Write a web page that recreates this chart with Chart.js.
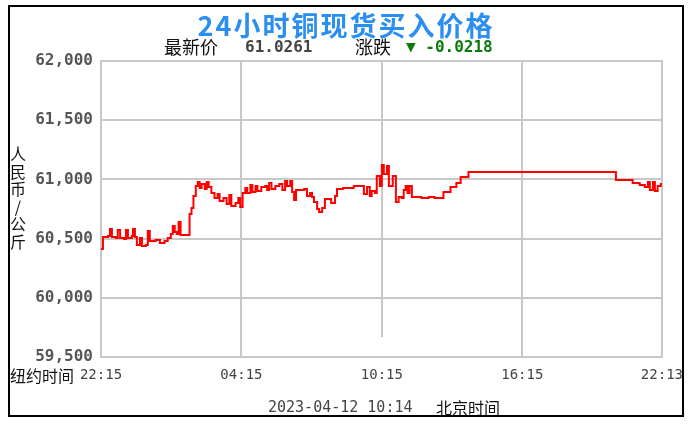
<!DOCTYPE html>
<html>
<head>
<meta charset="utf-8">
<script src="https://cdn.jsdelivr.net/npm/chart.js@4/dist/chart.umd.min.js"></script>
<style>
  html, body { margin: 0; padding: 0; background: #fff; }
  #wrap { position: relative; width: 693px; height: 432px; overflow: hidden; }
  #c { position: absolute; left: 0; top: 0; }
  .t { position: absolute; white-space: nowrap; line-height: 1; }
  #frame { position: absolute; left: 8px; top: 5px; width: 672px; height: 408px; border: 2px solid #000; pointer-events: none; z-index: 2; }
  #title { left: 8px; width: 676px; text-align: center; top: 5px; font: bold 27px "Noto Sans CJK SC"; color: #2a8ff0; letter-spacing: 2px; }
  .cn { font-family: "Noto Sans CJK SC"; color: #111; }
  .mono { font-family: "DejaVu Sans Mono"; }
  #ylab { left: 9px; top: 145px; width: 18px; font-size: 16px; line-height: 17.5px; text-align: center; }
</style>
</head>
<body>
<div id="wrap">
  <canvas id="c" width="693" height="432"></canvas>
  <div style="position:absolute;left:248px;top:337px;width:222px;height:19px;background:#fff;"></div>
  <div style="position:absolute;left:685px;top:0;width:8px;height:432px;background:#fff;"></div>
  <div id="frame"></div>
  <div class="t" id="title">24小时铜现货买入价格</div>
  <div class="t cn" style="left:164px;top:37px;font-size:18px;">最新价</div>
  <div class="t mono" style="left:245px;top:39px;font-size:16px;font-weight:bold;color:#444;">61.0261</div>
  <div class="t cn" style="left:355px;top:37px;font-size:18px;">涨跌</div>
  <div class="t mono" style="left:406px;top:39px;font-size:16px;font-weight:bold;color:#0a7a0a;">▼ -0.0218</div>
  <div class="t cn" id="ylab">人<br>民<br>币<br>/<br>公<br>斤</div>
  <div class="t cn" style="left:10px;top:367px;font-size:16px;">纽约时间</div>
  <div class="t mono" style="left:268px;top:400px;font-size:15px;color:#444;">2023-04-12 10:14</div>
  <div class="t cn" style="left:436px;top:399px;font-size:16px;">北京时间</div>
</div>
<script>
// minutes after 22:15 (New York time) and price in yuan per kg
const minutes = [0, 5, 18, 23, 28, 38, 43, 49, 59, 64, 69, 79, 82, 87, 92, 100, 105, 115, 120, 125,
  140, 151, 163, 171, 179, 184, 189, 194, 199, 204, 222, 227, 232, 237, 243, 248, 253, 258, 266, 271,
  276, 283, 291, 299, 304, 314, 322, 329, 334, 345, 352, 357, 363, 370, 375, 383, 388, 396, 401, 411,
  421, 426, 431, 437, 447, 457, 465, 472, 477, 485, 490, 495, 500, 521, 528, 536, 541, 546, 554, 559,
  567, 574, 590, 600, 605, 620, 636, 648, 661, 674, 682, 689, 694, 702, 707, 715, 720, 725, 733, 738,
  748, 756, 763, 771, 776, 781, 786, 791, 797, 814, 822, 840, 855, 878, 896, 911, 922, 942, 1320, 1363,
  1381, 1394, 1402, 1407, 1415, 1420, 1427, 1435, 1438];
const prices = [60412, 60513, 60522, 60581, 60513, 60505, 60573, 60505, 60497, 60573, 60505, 60522, 60581, 60513, 60446, 60505, 60437, 60446, 60564, 60480,
  60488, 60463, 60480, 60505, 60539, 60606, 60556, 60539, 60640, 60530, 60530, 60708, 60758, 60860, 60944, 60978, 60927, 60961, 60919, 60978,
  60936, 60885, 60843, 60877, 60818, 60843, 60792, 60868, 60775, 60801, 60843, 60767, 60885, 60927, 60885, 60953, 60894, 60944, 60902, 60936,
  60944, 60910, 60970, 60919, 60944, 60961, 60910, 60986, 60944, 60986, 60894, 60826, 60910, 60919, 60860, 60885, 60851, 60809, 60750, 60725,
  60758, 60834, 60801, 60860, 60919, 60927, 60927, 60944, 60944, 60877, 60936, 60860, 60902, 60885, 61029, 60944, 61122, 61046, 61113, 60944,
  61029, 60809, 60851, 60843, 60910, 60944, 60885, 60944, 60851, 60851, 60843, 60851, 60843, 60894, 60936, 60970, 61020, 61063, 60995, 60970,
  60953, 60936, 60978, 60910, 60978, 60902, 60944, 60961, 60953];
const tickMinutes = [0, 360, 720, 1080, 1438];
const tickLabels = ['22:15', '04:15', '10:15', '16:15', '22:13'];
const yTicks = [59500, 60000, 60500, 61000, 61500, 62000];

const points = minutes.map((m, i) => ({ x: m, y: prices[i] }));

new Chart(document.getElementById('c'), {
  type: 'line',
  data: {
    datasets: [{
      data: points,
      borderColor: '#ff0000',
      borderWidth: 2,
      stepped: true,
      pointRadius: 0,
      fill: false
    }]
  },
  options: {
    responsive: false,
    animation: false,
    layout: { padding: { top: 61, right: 28, bottom: 35, left: 0 } },
    plugins: { legend: { display: false }, tooltip: { enabled: false } },
    scales: {
      x: {
        type: 'linear',
        min: 0,
        max: 1438,
        afterBuildTicks: s => { s.ticks = tickMinutes.map(v => ({ value: v })); },
        afterFit: s => { s.height = 40; },
        ticks: {
          autoSkip: false,
          maxRotation: 0,
          padding: 10,
          color: '#444',
          font: { family: 'DejaVu Sans Mono', size: 14 },
          callback: (v, i) => tickLabels[i]
        },
        grid: { color: '#c8c8c8', lineWidth: 2, drawTicks: false },
        border: { color: '#c8c8c8', width: 2 }
      },
      y: {
        min: 59500,
        max: 62000,
        afterBuildTicks: s => { s.ticks = yTicks.map(v => ({ value: v })); },
        afterFit: s => { s.width = 101; },
        ticks: {
          padding: 8,
          color: '#555',
          font: { family: 'DejaVu Sans Mono', size: 16, weight: 'bold' },
          callback: v => v.toLocaleString('en-US')
        },
        grid: { color: '#c8c8c8', lineWidth: 2, drawTicks: false },
        border: { color: '#c8c8c8', width: 2 }
      }
    }
  },
  plugins: [{
    id: 'plotBorder',
    beforeDatasetsDraw(chart) {
      const { ctx, chartArea: a } = chart;
      ctx.save();
      ctx.strokeStyle = '#c8c8c8';
      ctx.lineWidth = 2;
      ctx.strokeRect(a.left, a.top, a.right - a.left, a.bottom - a.top);
      ctx.restore();
    }
  }]
});
</script>
</body>
</html>
